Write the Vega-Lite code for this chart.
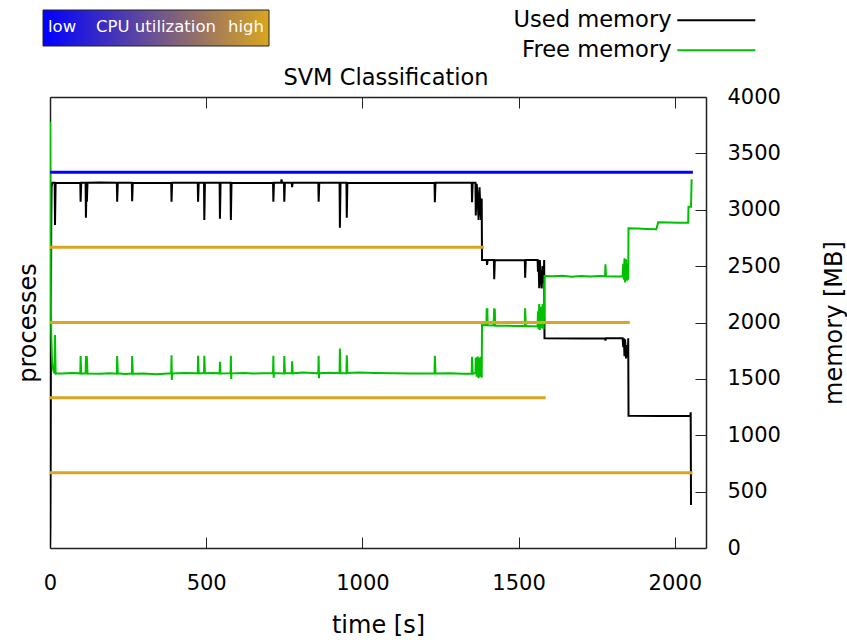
{
  "$schema": "https://vega.github.io/schema/vega-lite/v6.json",
  "width": 656,
  "height": 451,
  "autosize": "none",
  "padding": {"left": 50, "top": 97, "right": 141, "bottom": 92},
  "background": "white",
  "config": {
    "font": "DejaVu Sans",
    "view": {"stroke": null},
    "axis": {
      "domainColor": "#222222",
      "tickColor": "#222222",
      "domainWidth": 1.5,
      "tickWidth": 1,
      "labelColor": "black",
      "titleColor": "black",
      "labelFont": "DejaVu Sans",
      "titleFont": "DejaVu Sans",
      "labelFontSize": 21,
      "titleFontSize": 24,
      "titleFontWeight": "normal",
      "labelFlush": false,
      "grid": false
    }
  },
  "title": {
    "text": "SVM Classification",
    "font": "DejaVu Sans",
    "fontSize": 22.5,
    "fontWeight": "normal",
    "color": "black",
    "offset": -80,
    "dx": 8
  },
  "datasets": {
    "procs": [
      {"p": 5, "cpu": 0, "t0": 0, "t1": 2058},
      {"p": 4, "cpu": 1, "t0": 0, "t1": 1389},
      {"p": 3, "cpu": 1, "t0": 0, "t1": 1856},
      {"p": 2, "cpu": 1, "t0": 0, "t1": 1587},
      {"p": 1, "cpu": 1, "t0": 0, "t1": 2057}
    ],
    "mem": [
      {"s": "Used memory", "t": 0, "m": 0},
      {"s": "Used memory", "t": 1, "m": 200},
      {"s": "Used memory", "t": 2, "m": 900},
      {"s": "Used memory", "t": 3, "m": 2000},
      {"s": "Used memory", "t": 4, "m": 2900},
      {"s": "Used memory", "t": 5, "m": 3200},
      {"s": "Used memory", "t": 7, "m": 3240},
      {"s": "Used memory", "t": 15, "m": 3240},
      {"s": "Used memory", "t": 16, "m": 2865},
      {"s": "Used memory", "t": 18, "m": 3240},
      {"s": "Used memory", "t": 40, "m": 3238},
      {"s": "Used memory", "t": 97, "m": 3240},
      {"s": "Used memory", "t": 98, "m": 3071},
      {"s": "Used memory", "t": 100, "m": 3240},
      {"s": "Used memory", "t": 114, "m": 3240},
      {"s": "Used memory", "t": 115, "m": 2929},
      {"s": "Used memory", "t": 117, "m": 3240},
      {"s": "Used memory", "t": 118, "m": 3071},
      {"s": "Used memory", "t": 120, "m": 3240},
      {"s": "Used memory", "t": 160, "m": 3242},
      {"s": "Used memory", "t": 214, "m": 3240},
      {"s": "Used memory", "t": 215, "m": 3071},
      {"s": "Used memory", "t": 217, "m": 3240},
      {"s": "Used memory", "t": 262, "m": 3240},
      {"s": "Used memory", "t": 263, "m": 3075},
      {"s": "Used memory", "t": 265, "m": 3240},
      {"s": "Used memory", "t": 320, "m": 3238},
      {"s": "Used memory", "t": 388, "m": 3240},
      {"s": "Used memory", "t": 389, "m": 3071},
      {"s": "Used memory", "t": 391, "m": 3240},
      {"s": "Used memory", "t": 473, "m": 3240},
      {"s": "Used memory", "t": 474, "m": 3071},
      {"s": "Used memory", "t": 476, "m": 3240},
      {"s": "Used memory", "t": 493, "m": 3240},
      {"s": "Used memory", "t": 494, "m": 2909},
      {"s": "Used memory", "t": 496, "m": 3240},
      {"s": "Used memory", "t": 543, "m": 3240},
      {"s": "Used memory", "t": 544, "m": 2920},
      {"s": "Used memory", "t": 546, "m": 3240},
      {"s": "Used memory", "t": 578, "m": 3240},
      {"s": "Used memory", "t": 579, "m": 2909},
      {"s": "Used memory", "t": 581, "m": 3240},
      {"s": "Used memory", "t": 650, "m": 3238},
      {"s": "Used memory", "t": 714, "m": 3240},
      {"s": "Used memory", "t": 715, "m": 3071},
      {"s": "Used memory", "t": 717, "m": 3240},
      {"s": "Used memory", "t": 740, "m": 3240},
      {"s": "Used memory", "t": 741, "m": 3270},
      {"s": "Used memory", "t": 743, "m": 3240},
      {"s": "Used memory", "t": 749, "m": 3240},
      {"s": "Used memory", "t": 750, "m": 3071},
      {"s": "Used memory", "t": 752, "m": 3240},
      {"s": "Used memory", "t": 774, "m": 3240},
      {"s": "Used memory", "t": 775, "m": 3200},
      {"s": "Used memory", "t": 777, "m": 3240},
      {"s": "Used memory", "t": 859, "m": 3240},
      {"s": "Used memory", "t": 860, "m": 3071},
      {"s": "Used memory", "t": 862, "m": 3240},
      {"s": "Used memory", "t": 927, "m": 3240},
      {"s": "Used memory", "t": 928, "m": 2840},
      {"s": "Used memory", "t": 930, "m": 3240},
      {"s": "Used memory", "t": 949, "m": 3240},
      {"s": "Used memory", "t": 950, "m": 2930},
      {"s": "Used memory", "t": 952, "m": 3240},
      {"s": "Used memory", "t": 1100, "m": 3238},
      {"s": "Used memory", "t": 1231, "m": 3240},
      {"s": "Used memory", "t": 1232, "m": 3066},
      {"s": "Used memory", "t": 1234, "m": 3240},
      {"s": "Used memory", "t": 1350, "m": 3240},
      {"s": "Used memory", "t": 1351, "m": 3066},
      {"s": "Used memory", "t": 1353, "m": 3240},
      {"s": "Used memory", "t": 1362, "m": 3240},
      {"s": "Used memory", "t": 1363, "m": 2950},
      {"s": "Used memory", "t": 1366, "m": 3230},
      {"s": "Used memory", "t": 1369, "m": 3100},
      {"s": "Used memory", "t": 1372, "m": 2909},
      {"s": "Used memory", "t": 1375, "m": 3200},
      {"s": "Used memory", "t": 1378, "m": 3000},
      {"s": "Used memory", "t": 1380, "m": 2909},
      {"s": "Used memory", "t": 1382, "m": 3100},
      {"s": "Used memory", "t": 1383, "m": 2554},
      {"s": "Used memory", "t": 1398, "m": 2554},
      {"s": "Used memory", "t": 1399, "m": 2510},
      {"s": "Used memory", "t": 1401, "m": 2554},
      {"s": "Used memory", "t": 1421, "m": 2554},
      {"s": "Used memory", "t": 1422, "m": 2383},
      {"s": "Used memory", "t": 1424, "m": 2554},
      {"s": "Used memory", "t": 1470, "m": 2552},
      {"s": "Used memory", "t": 1520, "m": 2554},
      {"s": "Used memory", "t": 1521, "m": 2397},
      {"s": "Used memory", "t": 1523, "m": 2554},
      {"s": "Used memory", "t": 1561, "m": 2554},
      {"s": "Used memory", "t": 1562, "m": 2450},
      {"s": "Used memory", "t": 1564, "m": 2554},
      {"s": "Used memory", "t": 1566, "m": 2303},
      {"s": "Used memory", "t": 1568, "m": 2554},
      {"s": "Used memory", "t": 1571, "m": 2400},
      {"s": "Used memory", "t": 1574, "m": 2303},
      {"s": "Used memory", "t": 1577, "m": 2500},
      {"s": "Used memory", "t": 1580, "m": 2350},
      {"s": "Used memory", "t": 1582, "m": 2554},
      {"s": "Used memory", "t": 1583, "m": 1860},
      {"s": "Used memory", "t": 1700, "m": 1858},
      {"s": "Used memory", "t": 1777, "m": 1860},
      {"s": "Used memory", "t": 1778, "m": 1840},
      {"s": "Used memory", "t": 1780, "m": 1860},
      {"s": "Used memory", "t": 1833, "m": 1860},
      {"s": "Used memory", "t": 1835, "m": 1780},
      {"s": "Used memory", "t": 1837, "m": 1860},
      {"s": "Used memory", "t": 1839, "m": 1700},
      {"s": "Used memory", "t": 1841, "m": 1850},
      {"s": "Used memory", "t": 1844, "m": 1682},
      {"s": "Used memory", "t": 1847, "m": 1800},
      {"s": "Used memory", "t": 1850, "m": 1700},
      {"s": "Used memory", "t": 1851, "m": 1860},
      {"s": "Used memory", "t": 1852, "m": 1172},
      {"s": "Used memory", "t": 1950, "m": 1170},
      {"s": "Used memory", "t": 2050, "m": 1172},
      {"s": "Used memory", "t": 2051, "m": 1203},
      {"s": "Used memory", "t": 2052, "m": 381},
      {"s": "Free memory", "t": 0, "m": 3780},
      {"s": "Free memory", "t": 1, "m": 3300},
      {"s": "Free memory", "t": 2, "m": 2700},
      {"s": "Free memory", "t": 3, "m": 2200},
      {"s": "Free memory", "t": 4, "m": 1900},
      {"s": "Free memory", "t": 6, "m": 1700},
      {"s": "Free memory", "t": 9, "m": 1600},
      {"s": "Free memory", "t": 12, "m": 1560},
      {"s": "Free memory", "t": 15, "m": 1552},
      {"s": "Free memory", "t": 16, "m": 1890},
      {"s": "Free memory", "t": 18, "m": 1550},
      {"s": "Free memory", "t": 40, "m": 1548},
      {"s": "Free memory", "t": 70, "m": 1552},
      {"s": "Free memory", "t": 97, "m": 1549},
      {"s": "Free memory", "t": 98, "m": 1703},
      {"s": "Free memory", "t": 100, "m": 1546},
      {"s": "Free memory", "t": 114, "m": 1550},
      {"s": "Free memory", "t": 115, "m": 1703},
      {"s": "Free memory", "t": 117, "m": 1552},
      {"s": "Free memory", "t": 118, "m": 1700},
      {"s": "Free memory", "t": 120, "m": 1548},
      {"s": "Free memory", "t": 160, "m": 1545},
      {"s": "Free memory", "t": 190, "m": 1550},
      {"s": "Free memory", "t": 214, "m": 1546},
      {"s": "Free memory", "t": 215, "m": 1703},
      {"s": "Free memory", "t": 217, "m": 1549},
      {"s": "Free memory", "t": 240, "m": 1544},
      {"s": "Free memory", "t": 262, "m": 1547},
      {"s": "Free memory", "t": 263, "m": 1703},
      {"s": "Free memory", "t": 265, "m": 1545},
      {"s": "Free memory", "t": 300, "m": 1548},
      {"s": "Free memory", "t": 340, "m": 1542},
      {"s": "Free memory", "t": 388, "m": 1550},
      {"s": "Free memory", "t": 389, "m": 1710},
      {"s": "Free memory", "t": 390, "m": 1490},
      {"s": "Free memory", "t": 391, "m": 1548},
      {"s": "Free memory", "t": 430, "m": 1553},
      {"s": "Free memory", "t": 473, "m": 1550},
      {"s": "Free memory", "t": 474, "m": 1705},
      {"s": "Free memory", "t": 476, "m": 1548},
      {"s": "Free memory", "t": 493, "m": 1552},
      {"s": "Free memory", "t": 494, "m": 1705},
      {"s": "Free memory", "t": 496, "m": 1550},
      {"s": "Free memory", "t": 520, "m": 1553},
      {"s": "Free memory", "t": 543, "m": 1549},
      {"s": "Free memory", "t": 544, "m": 1652},
      {"s": "Free memory", "t": 546, "m": 1548},
      {"s": "Free memory", "t": 578, "m": 1551},
      {"s": "Free memory", "t": 579, "m": 1705},
      {"s": "Free memory", "t": 580, "m": 1500},
      {"s": "Free memory", "t": 581, "m": 1549},
      {"s": "Free memory", "t": 620, "m": 1552},
      {"s": "Free memory", "t": 650, "m": 1548},
      {"s": "Free memory", "t": 680, "m": 1550},
      {"s": "Free memory", "t": 714, "m": 1549},
      {"s": "Free memory", "t": 715, "m": 1705},
      {"s": "Free memory", "t": 716, "m": 1510},
      {"s": "Free memory", "t": 717, "m": 1551},
      {"s": "Free memory", "t": 749, "m": 1548},
      {"s": "Free memory", "t": 750, "m": 1703},
      {"s": "Free memory", "t": 752, "m": 1550},
      {"s": "Free memory", "t": 774, "m": 1551},
      {"s": "Free memory", "t": 775, "m": 1655},
      {"s": "Free memory", "t": 777, "m": 1549},
      {"s": "Free memory", "t": 810, "m": 1556},
      {"s": "Free memory", "t": 840, "m": 1552},
      {"s": "Free memory", "t": 859, "m": 1549},
      {"s": "Free memory", "t": 860, "m": 1705},
      {"s": "Free memory", "t": 861, "m": 1505},
      {"s": "Free memory", "t": 862, "m": 1550},
      {"s": "Free memory", "t": 900, "m": 1554},
      {"s": "Free memory", "t": 927, "m": 1550},
      {"s": "Free memory", "t": 928, "m": 1770},
      {"s": "Free memory", "t": 930, "m": 1552},
      {"s": "Free memory", "t": 949, "m": 1551},
      {"s": "Free memory", "t": 950, "m": 1710},
      {"s": "Free memory", "t": 952, "m": 1553},
      {"s": "Free memory", "t": 990, "m": 1556},
      {"s": "Free memory", "t": 1040, "m": 1552},
      {"s": "Free memory", "t": 1100, "m": 1550},
      {"s": "Free memory", "t": 1160, "m": 1548},
      {"s": "Free memory", "t": 1231, "m": 1550},
      {"s": "Free memory", "t": 1232, "m": 1705},
      {"s": "Free memory", "t": 1234, "m": 1548},
      {"s": "Free memory", "t": 1280, "m": 1550},
      {"s": "Free memory", "t": 1320, "m": 1546},
      {"s": "Free memory", "t": 1350, "m": 1548},
      {"s": "Free memory", "t": 1351, "m": 1697},
      {"s": "Free memory", "t": 1353, "m": 1545},
      {"s": "Free memory", "t": 1362, "m": 1550},
      {"s": "Free memory", "t": 1363, "m": 1690},
      {"s": "Free memory", "t": 1366, "m": 1520},
      {"s": "Free memory", "t": 1369, "m": 1697},
      {"s": "Free memory", "t": 1372, "m": 1505},
      {"s": "Free memory", "t": 1375, "m": 1690},
      {"s": "Free memory", "t": 1378, "m": 1520},
      {"s": "Free memory", "t": 1380, "m": 1697},
      {"s": "Free memory", "t": 1382, "m": 1510},
      {"s": "Free memory", "t": 1383, "m": 1978},
      {"s": "Free memory", "t": 1397, "m": 1976},
      {"s": "Free memory", "t": 1398, "m": 2126},
      {"s": "Free memory", "t": 1399, "m": 1976},
      {"s": "Free memory", "t": 1400, "m": 2126},
      {"s": "Free memory", "t": 1401, "m": 1975},
      {"s": "Free memory", "t": 1420, "m": 1974},
      {"s": "Free memory", "t": 1422, "m": 2126},
      {"s": "Free memory", "t": 1423, "m": 1974},
      {"s": "Free memory", "t": 1424, "m": 2120},
      {"s": "Free memory", "t": 1425, "m": 1972},
      {"s": "Free memory", "t": 1460, "m": 1972},
      {"s": "Free memory", "t": 1490, "m": 1970},
      {"s": "Free memory", "t": 1520, "m": 1968},
      {"s": "Free memory", "t": 1521, "m": 2126},
      {"s": "Free memory", "t": 1523, "m": 1967},
      {"s": "Free memory", "t": 1545, "m": 1966},
      {"s": "Free memory", "t": 1561, "m": 1965},
      {"s": "Free memory", "t": 1562, "m": 2100},
      {"s": "Free memory", "t": 1564, "m": 1940},
      {"s": "Free memory", "t": 1566, "m": 2164},
      {"s": "Free memory", "t": 1568, "m": 1933},
      {"s": "Free memory", "t": 1571, "m": 2140},
      {"s": "Free memory", "t": 1574, "m": 1950},
      {"s": "Free memory", "t": 1577, "m": 2164},
      {"s": "Free memory", "t": 1580, "m": 1940},
      {"s": "Free memory", "t": 1582, "m": 2100},
      {"s": "Free memory", "t": 1583, "m": 2412},
      {"s": "Free memory", "t": 1610, "m": 2410},
      {"s": "Free memory", "t": 1640, "m": 2414},
      {"s": "Free memory", "t": 1670, "m": 2406},
      {"s": "Free memory", "t": 1700, "m": 2412},
      {"s": "Free memory", "t": 1730, "m": 2408},
      {"s": "Free memory", "t": 1760, "m": 2413},
      {"s": "Free memory", "t": 1777, "m": 2410},
      {"s": "Free memory", "t": 1778, "m": 2516},
      {"s": "Free memory", "t": 1780, "m": 2410},
      {"s": "Free memory", "t": 1810, "m": 2408},
      {"s": "Free memory", "t": 1833, "m": 2410},
      {"s": "Free memory", "t": 1835, "m": 2520},
      {"s": "Free memory", "t": 1837, "m": 2380},
      {"s": "Free memory", "t": 1839, "m": 2569},
      {"s": "Free memory", "t": 1841, "m": 2356},
      {"s": "Free memory", "t": 1844, "m": 2560},
      {"s": "Free memory", "t": 1847, "m": 2370},
      {"s": "Free memory", "t": 1850, "m": 2500},
      {"s": "Free memory", "t": 1851, "m": 2380},
      {"s": "Free memory", "t": 1852, "m": 2835},
      {"s": "Free memory", "t": 1880, "m": 2833},
      {"s": "Free memory", "t": 1910, "m": 2830},
      {"s": "Free memory", "t": 1941, "m": 2828},
      {"s": "Free memory", "t": 1947, "m": 2888},
      {"s": "Free memory", "t": 1980, "m": 2886},
      {"s": "Free memory", "t": 2010, "m": 2884},
      {"s": "Free memory", "t": 2043, "m": 2885},
      {"s": "Free memory", "t": 2044, "m": 3027},
      {"s": "Free memory", "t": 2052, "m": 3027},
      {"s": "Free memory", "t": 2054, "m": 3270}
    ]
  },
  "layer": [
    {
      "data": {"name": "mem"},
      "mark": {"type": "line", "strokeWidth": 2, "strokeJoin": "miter", "clip": true},
      "encoding": {
        "x": {
          "field": "t", "type": "quantitative",
          "scale": {"domain": [0, 2100], "nice": false, "zero": false},
          "axis": {"orient": "top", "labels": false, "title": null, "values": [0, 500, 1000, 1500, 2000], "tickSize": -11}
        },
        "y": {
          "field": "m", "type": "quantitative",
          "scale": {"domain": [0, 4000], "nice": false},
          "axis": {"orient": "right", "title": "memory [MB]", "titleAngle": 270, "format": "d", "values": [0, 500, 1000, 1500, 2000, 2500, 3000, 3500, 4000], "tickSize": -11, "labelPadding": 32, "titlePadding": 66}
        },
        "stroke": {
          "field": "s", "type": "nominal",
          "scale": {"domain": ["Used memory", "Free memory"], "range": ["#000000", "#00c000"]},
          "legend": {
            "orient": "none", "legendX": 616, "legendY": -88, "title": null, "direction": "vertical",
            "symbolType": "M0,0H7.8", "symbolSize": 400, "symbolStrokeWidth": 2,
            "labelAlign": "right", "labelOffset": -17, "labelFontSize": 22.6, "labelFont": "DejaVu Sans",
            "labelColor": "black", "rowPadding": 7, "padding": 0, "labelLimit": 300
          }
        }
      }
    },
    {
      "data": {"name": "procs"},
      "mark": {"type": "rule", "strokeWidth": 3},
      "encoding": {
        "x": {
          "field": "t0", "type": "quantitative",
          "scale": {"domain": [0, 2100], "nice": false, "zero": false},
          "axis": {"orient": "bottom", "title": "time [s]", "format": "d", "values": [0, 500, 1000, 1500, 2000], "tickSize": -11, "labelPadding": 35, "titlePadding": 20}
        },
        "x2": {"field": "t1"},
        "y": {
          "field": "p", "type": "quantitative",
          "scale": {"domain": [0, 6], "nice": false},
          "axis": {"orient": "left", "title": "processes", "labels": false, "ticks": false, "titlePadding": 10}
        },
        "color": {
          "field": "cpu", "type": "quantitative",
          "scale": {"domain": [0, 1], "range": ["#0000ff", "#daa520"], "interpolate": "rgb"},
          "legend": {
            "orient": "none", "legendX": -7, "legendY": -87, "title": null, "direction": "horizontal",
            "gradientLength": 226, "gradientThickness": 36, "gradientStrokeColor": "#222222", "gradientStrokeWidth": 1,
            "values": [0.0845, 0.5, 0.898],
            "labelExpr": "datum.value < 0.2 ? 'low' : datum.value > 0.8 ? 'high' : 'CPU utilization'",
            "labelColor": "white", "labelFontSize": 16.5, "labelOffset": -27, "labelBaseline": "middle", "labelAlign": "center",
            "labelOverlap": false, "padding": 0
          }
        }
      }
    }
  ],
  "resolve": {
    "scale": {"y": "independent", "color": "independent"},
    "axis": {"x": "independent", "y": "independent"}
  }
}
